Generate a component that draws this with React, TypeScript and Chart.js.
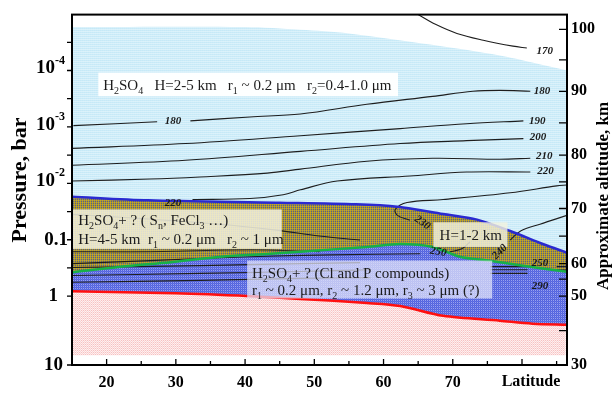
import React, { useEffect, useRef } from 'react';
import { Chart, registerables } from 'chart.js';
Chart.register(...registerables);

const P_TOP = 9.8e-6;
const P_BOTTOM = 16.6;
const LAT_MIN = 15;
const LAT_MAX = 86.5;

const latTicks = [20, 30, 40, 50, 60, 70];
const latMinorTicks = [25, 35, 45, 55, 65, 75, 80, 85];
const pressureTickValues = [1e-4, 1e-3, 1e-2, 0.1, 1, P_BOTTOM];
const pressureTickBase = ['10', '10', '10', '0.1', '1', '10'];
const pressureTickExp = ['-4', '-3', '-2', '', '', ''];
const pressureMinorTicks = [3.16e-5, 3.16e-4, 3.16e-3, 3.16e-2, 0.316];
const altitudeTickLabels = [100, 90, 80, 70, 60, 50, 30];
const altitudeTickPressure = [1.86e-5, 2.34e-4, 3.16e-3, 2.79e-2, 0.265, 1.0, P_BOTTOM];
const altitudeMinorPressure = [6.46e-5, 8.45e-4, 9.4e-3, 8.6e-2, 0.5, 4.07];

// layer boundaries (latitude, pressure bar)
const hazeTopLat = [15, 40, 48, 55, 67, 76.8, 81.5, 86.5];
const hazeTopP = [1.7e-5, 1.7e-5, 1.9e-5, 2.2e-5, 3.5e-5, 5.4e-5, 7.2e-5, 1.0e-4];
const cloudTopLat = [15, 26, 45, 56, 62, 68.6, 73.5, 78.3, 83, 86.5];
const cloudTopP = [1.72e-2, 2.0e-2, 2.2e-2, 2.35e-2, 2.6e-2, 3.5e-2, 4.4e-2, 7.0e-2, 0.119, 0.17];
const middleTopLat = [15, 22, 29.3, 36.5, 43.7, 48, 57.6, 62.4, 67.1, 71, 75.3, 79.4, 86.5];
const middleTopP = [0.38, 0.3, 0.25, 0.2, 0.177, 0.163, 0.134, 0.119, 0.134, 0.2, 0.235, 0.28, 0.37];
const cloudBaseLat = [15, 30, 40.7, 48, 57.6, 62.4, 68.6, 76.8, 81.5, 86.5];
const cloudBaseP = [0.82, 0.89, 1.0, 1.12, 1.32, 1.49, 2.23, 2.72, 3.07, 3.2];
const hazeBottomLat = [15, 86.3];
const hazeBottomP = [11.1, 11.1];

// isotherms (null = gap for a label)
const c170Lat = [65.0, 67.5, 70.6, 74.4, 78.7, 80.7];
const c170P = [1.02e-5, 1.52e-5, 2.2e-5, 2.9e-5, 3.7e-5, 4.0e-5];
const c180Lat = [15.2, 27.3, null, 32.1, 40.7, 48.0, 57.6, 67.1, 72.9, 76.8, 81.2];
const c180P = [9.5e-4, 8.1e-4, null, 7.8e-4, 6.65e-4, 5.9e-4, 3.97e-4, 2.87e-4, 2.33e-4, 2.25e-4, 2.33e-4];
const c190Lat = [15, 31.4, 48, 62.4, 72, 80.2];
const c190P = [2.4e-3, 1.97e-3, 1.43e-3, 1.07e-3, 8.8e-4, 7.8e-4];
const c200Lat = [15, 31.4, 48, 62.4, 72, 80.2];
const c200P = [4.78e-3, 3.9e-3, 2.71e-3, 1.97e-3, 1.75e-3, 1.61e-3];
const c210Lat = [15, 26.3, 33.5, 43.2, 48, 57.6, 67.1, 76.8, 81.2];
const c210P = [9.1e-3, 8.4e-3, 7.7e-3, 6.6e-3, 5.6e-3, 4.05e-3, 3.59e-3, 3.74e-3, 3.59e-3];
const c220Lat = [32.4, 40.7, 45.5, 48, 53.3, 63.8, 72, 81.2];
const c220P = [1.94e-2, 1.86e-2, 1.59e-2, 1.3e-2, 9.1e-3, 7.4e-3, 6.3e-3, 6.3e-3];
const c230Lat = [86.5, 85, 78.3, 68.6, 63.4, 61.7, 62.0, 63.8];
const c230P = [1.07e-2, 1.11e-2, 1.47e-2, 1.94e-2, 2.19e-2, 2.9e-2, 3.7e-2, 4.52e-2];
const c240Lat = [78.3, 79.8, 82.6, 86.5];
const c240P = [0.101, 7.0e-2, 5.3e-2, 3.7e-2];
const l1Lat = [15, 24.3, 36.3, 44.5, 50.7, 56.6];
const l1P = [3.55e-2, 4.17e-2, 5.3e-2, 6.76e-2, 8.6e-2, 0.101];
const l2Lat = [15, 26.3, 40.7, 50.8];
const l2P = [0.163, 0.163, 0.151, 0.163];
const c250Lat = [15, 26.3, 40.7, 52.3, 65.3];
const c250P = [0.265, 0.234, 0.2, 0.185, 0.177];
const c250hookLat = [69.6, 71.3, 72.5];
const c250hookP = [0.163, 0.145, 0.109];
const l4Lat = [15, 33.5, 48, 56.6];
const l4P = [0.311, 0.287, 0.265, 0.254];
const l5Lat = [15, 33.5, 48, 58.1];
const l5P = [0.429, 0.395, 0.365, 0.34];
const l6Lat = [15, 33.5, 48, 58.1];
const l6P = [0.567, 0.524, 0.484, 0.47];
const r1Lat = [75.4, 80.8, null, 85, 86.5];
const r1P = [0.3, 0.3, null, 0.3, 0.3];
const r2Lat = [75.4, 80.8, null, 85, 86.5];
const r2P = [0.34, 0.34, null, 0.345, 0.345];
const r3Lat = [75.4, 80.8];
const r3P = [0.395, 0.395];

const contourLabelText = ['170', '180', '180', '190', '200', '210', '220', '220', '230', '250', '240', '250', '290'];
const contourLabelLat = [83.3, 29.6, 82.9, 82.2, 82.3, 83.2, 83.4, 29.6, 65.6, 67.9, 76.8, 82.6, 82.6];
const contourLabelP = [4.6e-5, 8.0e-4, 2.33e-4, 7.8e-4, 1.5e-3, 3.3e-3, 6.0e-3, 2.25e-2, 5.0e-2, 0.165, 0.165, 0.265, 0.667];
const contourLabelAngle = [0, 0, 0, 0, 0, 0, 0, 0, 35, 10, -45, 0, 0];

const FONT = '"Liberation Serif", "Times New Roman", serif';

function toPoints(lat: (number | null)[], p: (number | null)[]) {
  return lat.map((x, i) => (x === null ? { x: lat[i - 1] as number, y: null } : { x, y: p[i] }));
}

function makePattern(colors: string[][]) {
  const c = document.createElement('canvas');
  c.height = colors.length;
  c.width = colors[0].length;
  const g = c.getContext('2d')!;
  colors.forEach((row, y) => row.forEach((col, x) => { g.fillStyle = col; g.fillRect(x, y, 1, 1); }));
  return g.createPattern(c, 'repeat')!;
}

function drawRich(ctx: CanvasRenderingContext2D, text: string, x: number, y: number, size: number) {
  let cx = x;
  const normal = `${size}px ${FONT}`;
  const sub = `${Math.round(size * 0.68)}px ${FONT}`;
  let buf = '';
  const flush = () => {
    if (buf) { ctx.font = normal; ctx.fillText(buf, cx, y); cx += ctx.measureText(buf).width; buf = ''; }
  };
  let i = 0;
  while (i < text.length) {
    const ch = text[i];
    if (ch === '_' && i + 1 < text.length) {
      flush();
      ctx.font = sub;
      const s = text[i + 1];
      ctx.fillText(s, cx, y + size * 0.27);
      cx += ctx.measureText(s).width;
      i += 2;
    } else { buf += ch; i++; }
  }
  flush();
}

const boxes = [
  { lat0: 18.8, lat1: 62.1, p0: 1.09e-4, p1: 2.86e-4, fill: 'rgba(255,255,255,0.96)',
    lines: [{ t: 'H_2SO_4   H=2-5 km   r_1 ~ 0.2 μm   r_2=0.4-1.0 μm', lat: 19.5, p: 2.24e-4 }] },
  { lat0: 15.05, lat1: 45.3, p0: 2.9e-2, p1: 0.145, fill: 'rgba(242,241,222,0.86)',
    lines: [{ t: 'H_2SO_4+ ? ( S_n, FeCl_3 …)', lat: 15.9, p: 5.5e-2 }, { t: 'H=4-5 km  r_1 ~ 0.2 μm   r_2 ~ 1 μm', lat: 15.9, p: 0.119 }] },
  { lat0: 67.2, lat1: 77.9, p0: 4.9e-2, p1: 0.134, fill: 'rgba(242,241,222,0.82)',
    lines: [{ t: 'H=1-2 km', lat: 68.1, p: 0.101 }] },
  { lat0: 40.3, lat1: 75.7, p0: 0.234, p1: 1.1, fill: 'rgba(228,230,250,0.72)',
    lines: [{ t: 'H_2SO_4+ ? (Cl and P compounds)', lat: 41.0, p: 0.47 }, { t: 'r_1 ~ 0.2 μm, r_2 ~ 1.2 μm, r_3 ~ 3 μm (?)', lat: 41.0, p: 0.957 }] },
];

const decorPlugin = {
  id: 'decor',
  afterDatasetsDraw(chart: any) {
    const ctx: CanvasRenderingContext2D = chart.ctx;
    const xs = chart.scales.x;
    const ys = chart.scales.y;
    ctx.save();
    boxes.forEach((b) => {
      const x0 = xs.getPixelForValue(b.lat0), x1 = xs.getPixelForValue(b.lat1);
      const y0 = ys.getPixelForValue(b.p0), y1 = ys.getPixelForValue(b.p1);
      ctx.fillStyle = b.fill;
      ctx.fillRect(x0, y0, x1 - x0, y1 - y0);
      ctx.fillStyle = '#1c1c1c';
      ctx.textBaseline = 'alphabetic';
      ctx.textAlign = 'left';
      b.lines.forEach((l) => drawRich(ctx, l.t, xs.getPixelForValue(l.lat), ys.getPixelForValue(l.p), 15));
    });
    ctx.font = `italic bold 11px ${FONT}`;
    ctx.fillStyle = '#1a1a1a';
    ctx.textAlign = 'center';
    ctx.textBaseline = 'middle';
    contourLabelText.forEach((t, i) => {
      ctx.save();
      ctx.translate(xs.getPixelForValue(contourLabelLat[i]), ys.getPixelForValue(contourLabelP[i]));
      ctx.rotate((contourLabelAngle[i] * Math.PI) / 180);
      ctx.fillText(t, 0, 0);
      ctx.restore();
    });
    ctx.restore();
  },
  afterDraw(chart: any) {
    const ctx: CanvasRenderingContext2D = chart.ctx;
    const a = chart.chartArea;
    const xs = chart.scales.x;
    const ys = chart.scales.y;
    ctx.save();
    ctx.strokeStyle = '#000';
    ctx.lineWidth = 2;
    ctx.strokeRect(a.left, a.top + 1, a.right - a.left, a.bottom - a.top - 1);
    ctx.lineWidth = 1.3;
    ctx.beginPath();
    latTicks.forEach((v) => { const x = xs.getPixelForValue(v); ctx.moveTo(x, a.bottom); ctx.lineTo(x, a.bottom - 6); });
    latMinorTicks.forEach((v) => { const x = xs.getPixelForValue(v); ctx.moveTo(x, a.bottom); ctx.lineTo(x, a.bottom - (v === 80 ? 6 : 4)); });
    pressureTickValues.concat(pressureMinorTicks).forEach((v) => { const y = ys.getPixelForValue(v); ctx.moveTo(a.left, y); ctx.lineTo(a.left - 5, y); });
    altitudeTickPressure.concat(altitudeMinorPressure).forEach((v) => { const y = ys.getPixelForValue(v); ctx.moveTo(a.right, y); ctx.lineTo(a.right - 8, y); });
    ctx.stroke();

    // left tick labels with superscripts
    ctx.fillStyle = '#000';
    ctx.textBaseline = 'middle';
    const rightEdges = [65, 65, 65, 68, 58, 63];
    pressureTickValues.forEach((v, i) => {
      const y = ys.getPixelForValue(v);
      ctx.font = `bold 19px ${FONT}`;
      const bw = ctx.measureText(pressureTickBase[i]).width;
      ctx.font = `bold 12px ${FONT}`;
      const ew = pressureTickExp[i] ? ctx.measureText(pressureTickExp[i]).width : 0;
      const x0 = rightEdges[i] - bw - ew;
      const yOff = pressureTickExp[i] ? -2 : 0;
      ctx.font = `bold 19px ${FONT}`;
      ctx.textAlign = 'left';
      ctx.fillText(pressureTickBase[i], x0, y + yOff);
      if (pressureTickExp[i]) {
        ctx.font = `bold 12px ${FONT}`;
        ctx.fillText(pressureTickExp[i], x0 + bw, y + yOff - 8);
      }
    });

    // axis titles
    ctx.textAlign = 'center';
    ctx.textBaseline = 'middle';
    ctx.font = `bold 22px ${FONT}`;
    ctx.save();
    ctx.translate(20, 180);
    ctx.rotate(-Math.PI / 2);
    ctx.fillText('Pressure, bar', 0, 0);
    ctx.restore();
    ctx.font = `bold 17px ${FONT}`;
    ctx.save();
    ctx.translate(604, 196);
    ctx.rotate(-Math.PI / 2);
    ctx.fillText('Approximate altitude, km', 0, 0);
    ctx.restore();
    ctx.font = `bold 16px ${FONT}`;
    ctx.fillText('Latitude', 531, 382);
    ctx.restore();
  },
};

export default function App() {
  const ref = useRef<HTMLCanvasElement>(null);
  useEffect(() => {
    const canvas = ref.current!;
    const lightBlue = makePattern([['#c6e9f7', '#cbebf8'], ['#d9f1fa', '#dcf2fb']]);
    const olive = makePattern([['#c8a820', '#9a9050'], ['#b49a22', '#56608a']]);
    const blue = makePattern([['#5262dc', '#98a0f0'], ['#6070e4', '#5565de']]);
    const pink = makePattern([['#fdeaea', '#f7c2c2'], ['#fad6d6', '#fff2f2']]);

    const boundary = (lat: number[], p: number[], color: string, width: number, fill: any, bg: any) => ({
      data: toPoints(lat, p), borderColor: color, borderWidth: width, fill, backgroundColor: bg,
      pointRadius: 0, tension: 0.3,
    });
    const contour = (lat: (number | null)[], p: (number | null)[], w = 1.1) => ({
      data: toPoints(lat, p), borderColor: '#1e1e1e', borderWidth: w, fill: false,
      pointRadius: 0, tension: 0.35, spanGaps: false,
    });

    const chart = new Chart(canvas, {
      type: 'line',
      data: {
        datasets: [
          boundary(hazeTopLat, hazeTopP, 'rgba(0,0,0,0)', 0, '+1', lightBlue),
          boundary(cloudTopLat, cloudTopP, '#2a2ad0', 2.5, '+1', olive),
          boundary(middleTopLat, middleTopP, '#18b048', 2.5, '+1', blue),
          boundary(cloudBaseLat, cloudBaseP, '#ff1010', 2.5, '+1', pink),
          boundary(hazeBottomLat, hazeBottomP, 'rgba(0,0,0,0)', 0, false, 'rgba(0,0,0,0)'),
          contour(c170Lat, c170P),
          contour(c180Lat, c180P),
          contour(c190Lat, c190P),
          contour(c200Lat, c200P),
          contour(c210Lat, c210P),
          contour(c220Lat, c220P),
          contour(c230Lat, c230P),
          contour(c240Lat, c240P),
          contour(l1Lat, l1P),
          contour(l2Lat, l2P, 0.9),
          contour(c250Lat, c250P),
          contour(c250hookLat, c250hookP),
          contour(l4Lat, l4P),
          contour(l5Lat, l5P),
          contour(l6Lat, l6P),
          contour(r1Lat, r1P),
          contour(r2Lat, r2P),
          contour(r3Lat, r3P),
        ] as any,
      },
      options: {
        animation: false,
        responsive: false,
        events: [],
        layout: { padding: { top: 8, left: 0, right: 0, bottom: 0 } },
        plugins: {
          legend: { display: false },
          tooltip: { enabled: false },
          filler: { drawTime: 'beforeDatasetsDraw' },
        } as any,
        scales: {
          x: {
            type: 'linear', min: LAT_MIN, max: LAT_MAX,
            grid: { display: false, drawTicks: false },
            border: { display: false },
            afterBuildTicks: (s: any) => { s.ticks = latTicks.map((v) => ({ value: v })); },
            afterFit: (s: any) => { s.height = 28; },
            ticks: { color: '#000', font: { family: FONT, size: 16, weight: 'bold' }, padding: 8, maxRotation: 0, autoSkip: false, callback: (v: any) => String(v) },
          },
          y: {
            type: 'logarithmic', reverse: true, min: P_TOP, max: P_BOTTOM,
            grid: { display: false, drawTicks: false },
            border: { display: false },
            ticks: { display: false },
            afterBuildTicks: (s: any) => { s.ticks = pressureTickValues.map((v) => ({ value: v })); },
            afterFit: (s: any) => { s.width = 72; },
          },
          y2: {
            type: 'logarithmic', position: 'right', reverse: true, min: P_TOP, max: P_BOTTOM,
            grid: { display: false, drawTicks: false },
            border: { display: false },
            afterBuildTicks: (s: any) => { s.ticks = altitudeTickPressure.map((v) => ({ value: v })); },
            afterFit: (s: any) => { s.width = 47; },
            ticks: { color: '#000', font: { family: FONT, size: 16, weight: 'bold' }, padding: 4, autoSkip: false, callback: (_v: any, i: number) => String(altitudeTickLabels[i]) },
          },
        } as any,
      },
      plugins: [decorPlugin],
    });
    return () => chart.destroy();
  }, []);
  return (
    <div style={{ position: 'fixed', left: 0, top: 0, width: 614, height: 393, background: '#fff' }}>
      <canvas ref={ref} width={614} height={393} style={{ width: 614, height: 393, display: 'block' }} />
    </div>
  );
}
